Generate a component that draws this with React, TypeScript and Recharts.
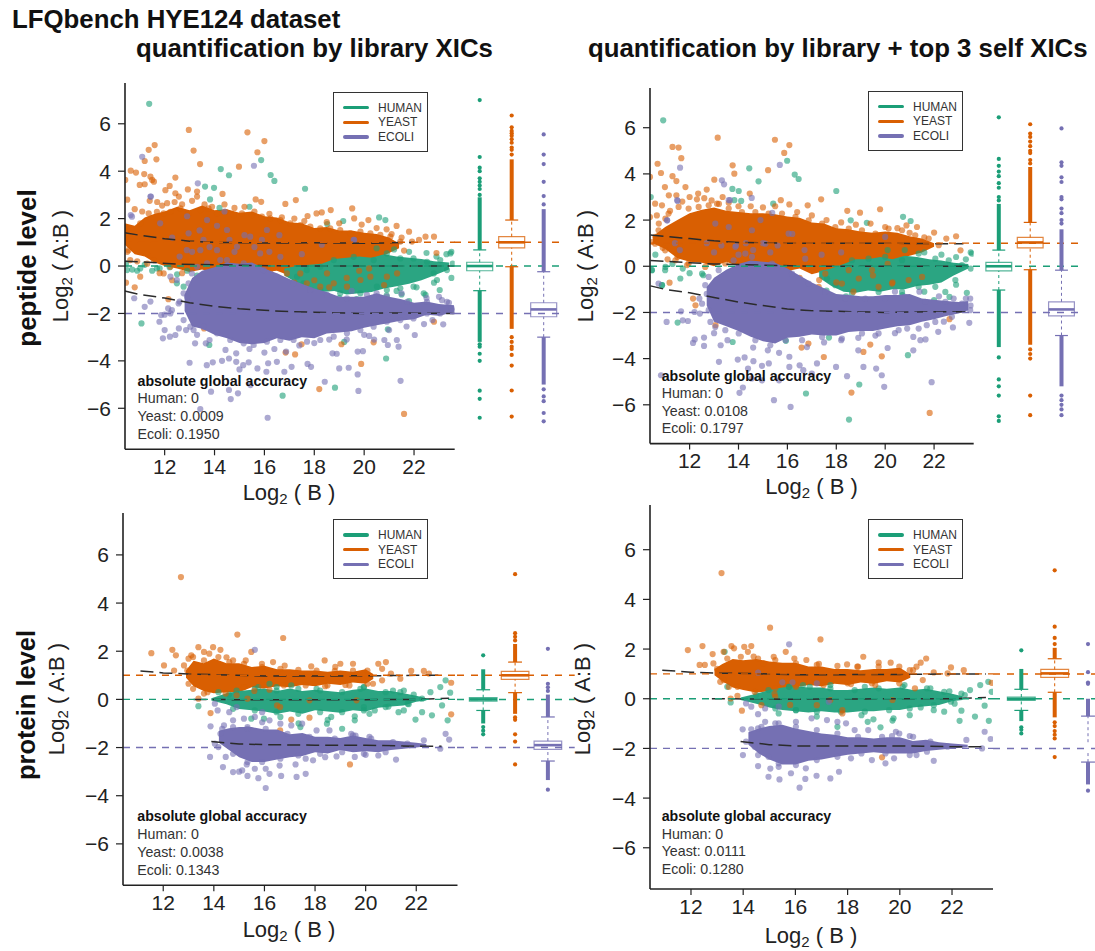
import React from 'react';
import {
  Area,
  ComposedChart,
  Line,
  ReferenceArea,
  ReferenceLine,
  Scatter,
  ScatterChart,
  XAxis,
  YAxis,
} from 'recharts';

type Pt = [number, number];

const GREEN = '#1B9E77';
const ORANGE = '#D95F02';
const PURPLE = '#7570B3';
const INK = '#222';
const FONT = '"Liberation Sans", Arial, sans-serif';

const xTicks = [12, 14, 16, 18, 20, 22];
const yTicks = [-6, -4, -2, 0, 2, 4, 6];
const speciesNames = ['HUMAN', 'YEAST', 'ECOLI'];
const speciesColors = [GREEN, ORANGE, PURPLE];
const expectedRatios = [0, 1, -2];

// --- peptide level, library XICs ---
// the solid core of each cloud is an envelope, single points sit around it
const pepLibYeastBandX = [10.4, 10.8, 11.2, 11.6, 12, 12.5, 13, 13.5, 14, 14.5, 15, 15.5, 16, 16.5, 17, 17.5, 18, 18.5, 19, 19.5, 20, 20.5, 21, 21.4];
const pepLibYeastBandHigh = [1.8, 1.7, 2.05, 2.2, 2.3, 2.5, 2.35, 2.55, 2.35, 2.4, 2.25, 2.3, 2.1, 2.05, 1.85, 1.8, 1.6, 1.65, 1.5, 1.5, 1.4, 1.35, 1.2, 0.95];
const pepLibYeastBandLow = [0.9, 0.5, 0.4, 0.15, 0, -0.1, -0.25, -0.15, -0.3, -0.1, -0.2, -0.05, -0.25, -0.2, -0.4, -0.3, -0.3, -0.1, -0.2, 0.05, 0.2, 0.3, 0.55, 0.75];
const pepLibHumanBandX = [16.8, 17.3, 17.8, 18.3, 18.8, 19.3, 19.8, 20.3, 20.8, 21.3, 21.8, 22.3, 22.8, 23.4];
const pepLibHumanBandHigh = [-0.1, 0, 0.05, 0.1, 0.3, 0.35, 0.4, 0.35, 0.5, 0.4, 0.35, 0.3, 0.2, 0.15];
const pepLibHumanBandLow = [-0.4, -0.7, -0.95, -1.1, -1.05, -1.2, -1.15, -1.1, -0.95, -0.85, -0.75, -0.6, -0.4, -0.15];
const pepLibEcoliBandX = [12.8, 13.1, 13.5, 14, 14.5, 15, 15.5, 16, 16.5, 17, 17.5, 18, 18.5, 19, 19.5, 20, 20.5, 21, 21.5, 22, 22.5, 23, 23.6];
const pepLibEcoliBandHigh = [-1.2, -0.5, -0.2, -0.05, 0.15, 0.1, 0.15, -0.1, -0.3, -0.55, -0.75, -0.95, -1.1, -1.3, -1.3, -1.3, -1.15, -1.3, -1.4, -1.55, -1.5, -1.6, -1.65];
const pepLibEcoliBandLow = [-1.9, -2.55, -2.65, -2.9, -3.05, -3.25, -3.3, -3.25, -3.05, -3.15, -3.0, -3.05, -2.85, -2.8, -2.75, -2.6, -2.5, -2.4, -2.3, -2.25, -2.05, -2.1, -1.95];

const pepLibYeastPts: Pt[] = [
  [10.42, 3.63], [10.64, 4.02], [10.85, 3.94], [11.36, 4.9], [11.6, 5.1], [11.2, 4.43], [11.67, 4.5], [11.18, 3.88],
  [11.43, 3.77], [11, 3.42], [11.2, 3.45], [11.5, 3.63], [11.57, 3.56], [12.97, 5.74], [13.16, 4.87], [13.42, 4.3],
  [12.43, 3.73], [12.2, 3.38], [12.03, 3.2], [12.93, 3.23], [13.3, 3.14], [13.3, 2.93], [12.43, 3.07], [12.57, 2.93],
  [15.32, 5.64], [16, 5.27], [15.72, 4.8], [14.98, 4.19], [14.32, 3.04], [16.84, 2.62], [17.26, 2.78], [15.65, 2.81],
  [15.87, 2.71], [19.52, 2.43], [18.66, 2.36], [17.73, 2.11], [18.09, 2.22], [18.3, 2.26], [20.17, 1.94], [19.6, 2.01],
  [21.3, 1.69], [21.8, 1.45], [22.46, 1.24], [22.8, 1.24], [22.2, 1.1], [10.5, 2.8], [10.8, 2.4], [11.1, 2.3],
  [11.4, 2.75], [11.7, 2.7], [11.9, 2.55], [12.1, 2.65], [12.4, 2.7], [12.7, 2.6], [13.1, 2.75], [13.6, 2.6],
  [13.9, 2.5], [14.4, 2.6], [14.8, 2.45], [15.2, 2.5], [15.6, 2.3], [16.2, 2.2], [16.7, 2.05], [17.2, 2.0],
  [17.6, 1.9], [18.5, 1.85], [19, 1.8], [19.9, 1.75], [20.5, 1.6], [20.9, 1.55], [21.1, 1.35], [21.5, 1.2],
  [10.5, 0.6], [10.45, -0.7], [10.9, 0.2], [11.3, 0.1], [11.8, -0.3], [12.3, -0.6], [12.7, -0.3], [21.6, 0.65],
  [16.4, -0.6], [17.2, -0.7], [18, -0.6], [18.6, -0.9], [19.3, -0.5], [19.8, -0.2], [20.2, -0.1], [20.8, -0.8],
  [17.23, -3.73], [17.49, -3.3], [19.88, -4.13], [18.2, -5.19], [21.6, -6.24], [20.38, -3.22], [19.09, -3.3],
  [16.85, -3.65], [13.58, -2.63], [22.8, -2.35], [12.15, -1.4], [10.8, -0.9], [22.9, 0.55],
];
const pepLibYeastEdge: Pt[] = [
  [11.02, 1.8], [11.36, 2.22], [11.69, 2.29], [11.96, 2.22], [12.23, 2.29], [12.63, 2.43], [12.96, 2.22], [13.43, 2.36],
  [13.76, 2.43], [14.1, 2.22], [14.43, 2.29], [14.77, 2.15], [15.1, 2.22], [15.5, 2.15], [15.9, 2.08], [16.24, 2.01],
  [16.64, 1.94], [17.04, 1.8], [17.44, 1.73], [17.84, 1.66], [18.24, 1.59], [18.64, 1.59], [19.04, 1.52], [19.44, 1.38],
  [19.85, 1.45], [20.25, 1.38], [20.65, 1.31], [21.05, 1.24], [21.45, 1.03], [21.92, 1.03], [14.23, -0.03], [14.9, 0.11],
  [15.57, 0.04], [16.24, -0.17], [16.9, -0.31], [17.17, -0.87], [17.7, -0.73], [18.24, -0.87], [18.78, -0.73], [19.31, -0.87],
  [19.85, -0.59], [20.25, -0.45], [20.91, -0.45], [21.32, -0.31], [18.51, -0.31], [17.44, -0.31], [11.96, -0.31], [11.02, -0.45],
  [10.62, 0.25], [10.55, 0.67], [11.29, 0.53], [11.56, 0.25], [12.23, -0.03],
];
const pepLibHumanPts: Pt[] = [
  [11.38, 6.84], [14.25, 4.09], [14.58, 3.83], [15.87, 4.47], [16.25, 3.84], [16.4, 3.59], [17.63, 3.26], [13.62, 3.35],
  [13.98, 3.3], [13.82, 2.81], [20.6, 2.05], [20.85, 1.94], [19.16, 1.9], [18.52, 1.77], [14.2, 2.45], [15.4, 2.5],
  [10.45, 0.1], [10.7, -0.15], [10.9, -0.2], [11.2, 0.05], [11.5, -0.2], [11.8, -0.1], [12.2, -0.05], [12.5, -0.35],
  [12.9, -0.2], [13.3, -0.4], [11.07, -2.42], [16.73, -5.47], [18.83, -5.13], [20.88, -3.9], [13.79, -3.33],
  [20.95, -2.67], [23.03, -1.01], [22.46, -1.22], [21.8, -1.48], [22.1, -0.9], [21.5, -1.2], [22.8, -0.7], [23.5, -0.5],
  [23.3, 0.5], [23.5, 0.6], [22.9, 0.4], [22.5, 0.55], [21.8, 0.6], [21.2, 0.7], [20.5, 0.75], [23.55, 0.1],
  [18.3, -1.2], [19, -1.35], [19.7, -1.4], [20.4, -1.35], [20.9, -1.25], [21.3, -1.05], [19.2, -3.2],
];
const pepLibHumanEdge: Pt[] = [
  [17.7, -0.17], [18.24, -0.03], [18.78, 0.25], [19.58, 0.39], [20.38, 0.25], [20.91, 0.53], [21.45, 0.32], [21.98, 0.32],
  [22.52, 0.18], [23.05, 0.25], [23.46, 0.53], [22.92, -0.59], [22.39, -1.15], [21.98, -0.87], [21.45, -0.94], [20.91, -1.01],
  [20.51, -0.87], [19.85, -1.15], [19.04, -1.15], [18.24, -1.01], [17.57, -0.73], [17.31, -0.45], [22.79, -0.31], [23.32, -0.17],
  [10.49, -0.17], [11.02, -0.1], [11.69, -0.1], [12.76, -0.87], [12.49, -0.73],
];
const pepLibEcoliPts: Pt[] = [
  [11.1, 4.61], [15.58, 4.23], [13.33, 3.49], [11.43, 2.93], [10.64, 2.15], [12.3, 1.2], [12.9, 2.1], [13.4, 1.5],
  [13.8, 0.8], [14.1, 1.7], [14.4, 2.3], [14.8, 0.6], [15.2, 1.3], [15.6, 0.8], [15.9, 1.1], [16.2, 0.6], [13.1, 0.6],
  [12.6, 0.4], [14.6, 1.1], [16.6, 1.3], [17.5, 0.5], [18.3, 0.9], [19.6, 1.1], [13, -4.08], [13.69, -4.18],
  [13.93, -4.06], [14.3, -4], [14.58, -3.9], [14.87, -4.04], [15.15, -4.18], [15, -4.36], [15.37, -4.06],
  [15.72, -4.32], [16.08, -4.46], [16.15, -4.1], [16.5, -4.04], [16.87, -3.61], [16.8, -4.46], [17.09, -4.25],
  [17.73, -4.13], [17.87, -4.25], [18.42, -4.88], [19, -4.32], [19.38, -4.29], [19.74, -4.57], [19.77, -5.27],
  [21.46, -4.84], [16.13, -6.4], [13.43, -6.03], [13.86, -5.3], [14.58, -5.23], [14.94, -5.37], [14.65, -5.61],
  [15.44, -5.02], [18.73, -3.68], [18.9, -3.7], [19.74, -3.61], [19.95, -3.59], [20.95, -3.33], [21.38, -3.4],
  [21.31, -3.12], [20.81, -3.12], [20.4, -3.1], [20.2, -2.95], [22.03, -2.91], [22.74, -2.28], [23.17, -2.46],
  [10.78, -1.36], [11.2, -1.72], [11.43, -1.5], [11.86, -2.07], [12, -2.05], [12.14, -1.79], [11.79, -2.35],
  [12, -2.7], [11.93, -3.05], [12.21, -2.98], [12.43, -2.91], [12.57, -2.63], [12.86, -2.7], [13.22, -3.26],
  [13.65, -3.26], [13.8, -3.12], [14.44, -3.54], [14.87, -3.68], [12.6, -1.5], [12.9, -1.3], [13.3, -2.9],
  [15.4, -3.5], [16, -3.65], [16.4, -3.5], [17.4, -3.35], [18, -3.25], [18.6, -3.1], [19.3, -3.1], [20, -2.9],
  [21, -2.7], [21.7, -2.55], [22.4, -2.45], [23, -1.3], [23.4, -1.55], [23.55, -1.9], [22.5, -1.35], [21.5, -1.15],
  [20.5, -1.15], [19.5, -1.05],
];
const pepLibEcoliEdge: Pt[] = [
  [13.7, 1.94], [12.89, 0.67], [13.43, 0.67], [14.1, 0.67], [14.5, 1.52], [14.9, 0.81], [16.1, 1.52], [16.64, 0.39],
  [15.43, 1.24], [13.56, 1.1], [11.82, 1.8], [10.69, 2.08], [11.45, 2.93], [12.96, 1.38], [14.23, 0.25], [19.58, 1.1], [15.83, 0.53],
  [13.16, -2.7], [13.56, -2.56], [14.1, -2.84], [14.63, -3.12], [15.17, -3.26], [15.57, -3.33], [16.1, -3.19], [16.64, -3.12],
  [17.17, -3.12], [17.71, -3.19], [18.24, -3.12], [18.78, -2.98], [19.31, -2.84], [19.85, -2.7], [20.38, -2.56], [20.91, -2.35],
  [21.45, -2.28], [21.98, -2.21], [22.52, -2], [23.05, -2], [12.29, -1.86], [12.56, -1.58], [12.76, -1.15], [12.96, -0.73],
  [12.49, -0.59], [12.23, -0.45], [13.09, -0.31], [13.3, -0.03], [13.7, 0.11], [14.5, 0.25], [15.17, 0.11], [15.97, -0.17],
  [16.5, -0.45], [17.17, -0.73], [17.84, -1.01], [18.51, -1.22], [19.31, -1.36], [20.11, -1.22], [20.91, -1.29], [21.72, -1.51],
  [22.52, -1.51], [23.32, -1.51], [23.52, -1.79], [23.12, -1.44], [12.23, -2], [12.76, -2.28], [13.03, -2.56],
];

const pepLibHumanFit = { x: [10.4, 11.5, 12.5, 17, 20, 23.6], y: [0.2, 0.15, 0.08, 0, 0, 0] };
const pepLibYeastFit = { x: [10.4, 11, 12, 13, 14, 16, 18, 20, 22], y: [1.4, 1.3, 1.15, 1.05, 1.0, 0.97, 0.98, 0.96, 1.0] };
const pepLibEcoliFit = {
  x: [10.4, 11, 12, 13, 14, 15, 16, 17, 18, 20, 21, 23.6],
  y: [-1.05, -1.2, -1.35, -1.55, -1.7, -1.8, -1.87, -1.92, -1.95, -2.0, -1.98, -2.0],
};

const pepLibHumanOutliers = [7.0, 4.6, 4.15, 4.0, 3.7, 3.55, 3.4, 3.25, 3.0, -3.3, -3.4, -3.7, -4.0, -5.26, -5.6, -6.4];
const pepLibYeastOutliers = [6.35, 5.85, 5.7, 5.6, 5.5, 5.35, 5.2, 5.0, 4.9, 4.7, -3.0, -3.2, -3.4, -3.5, -3.75, -4.2, -5.25, -6.35];
const pepLibEcoliOutliers = [5.55, 4.7, 4.3, 3.55, 2.95, 2.6, -5.2, -5.5, -5.7, -6.2, -6.55];
// whisker low, q1, median, q3, whisker high
const pepLibHumanBox = [-1.04, -0.2, 0, 0.16, 0.68];
const pepLibYeastBox = [-0.03, 0.77, 1.0, 1.24, 1.94];
const pepLibEcoliBox = [-3.0, -2.14, -1.83, -1.55, -0.24];
const pepLibHumanRuns = [[0.68, 2.9], [-3.2, -1.04]];
const pepLibYeastRuns = [[1.94, 4.5], [-2.65, -0.03]];
const pepLibEcoliRuns = [[-0.24, 2.4], [-5.0, -3.0]];

// --- peptide level, library + top 3 self XICs ---
const pepSelfYeastBandX = [10.5, 11, 11.5, 12, 12.5, 13, 13.5, 14, 14.5, 15, 15.5, 16, 16.5, 17, 17.5, 18, 18.5, 19, 19.5, 20, 20.5, 21, 21.5, 22];
const pepSelfYeastBandHigh = [1.3, 1.7, 2.0, 2.3, 2.45, 2.55, 2.4, 2.35, 2.3, 2.3, 2.25, 2.15, 2.1, 1.9, 1.85, 1.65, 1.6, 1.5, 1.45, 1.5, 1.45, 1.3, 1.2, 1.0];
const pepSelfYeastBandLow = [1.0, 0.75, 0.35, 0.2, 0.15, 0, 0.2, 0, 0.1, -0.1, -0.05, -0.2, -0.1, -0.35, -0.2, -0.3, -0.1, -0.2, -0.05, 0.1, 0.3, 0.45, 0.6, 0.85];
const pepSelfHumanBandX = [17.3, 17.8, 18.3, 18.8, 19.3, 19.8, 20.3, 20.8, 21.3, 21.8, 22.3, 22.8, 23.4];
const pepSelfHumanBandHigh = [-0.2, -0.1, 0.1, 0.3, 0.3, 0.4, 0.3, 0.45, 0.4, 0.3, 0.25, 0.15, 0.1];
const pepSelfHumanBandLow = [-0.5, -0.85, -1.1, -1.15, -1.05, -1.1, -1.0, -1.0, -0.85, -0.8, -0.7, -0.4, -0.1];
const pepSelfEcoliBandX = [12.7, 13, 13.5, 14, 14.5, 15, 15.5, 16, 16.5, 17, 17.5, 18, 18.5, 19, 19.5, 20, 20.5, 21, 21.5, 22, 22.5, 23, 23.4];
const pepSelfEcoliBandHigh = [-0.9, -0.5, -0.15, 0.1, 0.25, 0.2, 0.15, -0.1, -0.4, -0.7, -0.95, -1.2, -1.25, -1.3, -1.3, -1.25, -1.25, -1.2, -1.4, -1.45, -1.5, -1.55, -1.5];
const pepSelfEcoliBandLow = [-1.7, -2.4, -2.6, -2.8, -3.05, -3.25, -3.35, -3.1, -3.05, -2.95, -3.0, -3.0, -2.85, -2.8, -2.8, -2.7, -2.6, -2.55, -2.4, -2.3, -2.15, -2.05, -1.9];

const pepSelfYeastPts: Pt[] = [
  [10.38, 3.87], [10.69, 4.44], [10.83, 4.04], [11.3, 5.17], [11.55, 5.14], [11.66, 4.68], [11.3, 3.9], [11.46, 3.69],
  [10.99, 3.43], [11.83, 3.43], [11.15, 3.07], [11.46, 3.07], [13.15, 5.57], [13.76, 4.37], [13.83, 4.01], [13.01, 3.75],
  [12.7, 3.32], [12.35, 3.15], [13.35, 3.0], [14.46, 3.15], [15.21, 4.16], [15.49, 5.48], [15.87, 4.91], [16.08, 5.25],
  [15.73, 2.86], [16.08, 2.68], [16.83, 2.64], [17.38, 2.9], [18.45, 2.4], [18.97, 2.32], [19.79, 2.47], [21.3, 1.7],
  [22, 1.46], [22.9, 1.3], [22.5, 1.2], [23.08, 0.69], [20.87, 1.77], [10.59, 2.71], [10.87, 2.64], [10.66, 2.2],
  [10.38, 2.13], [11.01, 2.06], [10.73, 1.56], [10.59, 0.98], [10.9, 0.8], [11.2, 2.4], [11.7, 2.8], [12, 3.0],
  [12.3, 2.9], [12.6, 2.95], [12.9, 2.85], [13.2, 2.7], [13.6, 2.75], [14, 2.6], [14.5, 2.6], [15, 2.55], [15.5, 2.6],
  [16.4, 2.35], [17, 2.2], [17.6, 2.0], [18.2, 1.9], [18.8, 1.8], [19.4, 1.85], [20, 1.7], [20.5, 1.65], [21, 1.45],
  [21.6, 1.25], [11.1, 0.3], [11.5, 0.4], [11.9, 0.05], [16.5, -0.5], [17.3, -0.6], [18, -0.7], [18.7, -1.1], [19.5, -0.4],
  [20.3, -0.7], [20.1, 0.1], [17.49, -3.93], [19.86, -3.9], [18.62, -5.47], [21.82, -6.35], [19.39, -3.39], [19.11, -3.71],
  [22.63, -2.29], [12.14, -1.4], [12.24, -1.69], [11.18, -0.71], [13.06, -2.55], [16.86, -3.35], [16.58, -3.52],
];
const pepSelfYeastEdge: Pt[] = [
  [10.74, 1.85], [11.14, 2.28], [11.55, 2.57], [11.96, 2.5], [12.37, 2.57], [12.78, 2.64], [13.12, 2.71], [13.6, 2.5],
  [14.14, 2.35], [14.69, 2.35], [15.23, 2.28], [15.78, 2.28], [16.33, 2.14], [16.87, 1.99], [17.42, 1.85], [17.96, 1.7],
  [18.51, 1.63], [19.05, 1.56], [19.6, 1.41], [20.14, 1.63], [20.69, 1.56], [21.23, 1.34], [21.78, 1.2], [22.19, 0.91],
  [10.6, 1.27], [10.46, 1.05], [11, 0.69], [11.42, 0.26], [11.96, 0.12], [12.64, -0.03], [13.46, 0.12], [14.28, -0.03],
  [15.23, -0.03], [16.05, -0.17], [16.87, -0.03], [17.28, -0.89], [18.23, -0.75], [18.92, -0.53], [19.73, -0.89], [20.28, -0.75],
  [20.96, -0.6], [21.51, -0.46], [17.55, -0.32], [18.51, -0.17], [19.46, -0.17],
];
const pepSelfHumanPts: Pt[] = [
  [10.92, 6.32], [14.44, 4.24], [14.82, 3.68], [15.99, 4.57], [16.3, 3.97], [16.46, 3.78], [18, 3.26], [13.75, 3.35],
  [14.01, 3.26], [13.83, 2.86], [14.11, 2.83], [15.42, 2.71], [10.41, 3.0], [20.73, 2.14], [21.04, 1.96], [19.25, 1.88],
  [18.59, 1.99], [11.51, -2.44], [16.76, -5.51], [18.94, -5.12], [20.93, -3.85], [18.52, -6.64], [13.76, -3.28],
  [15.94, -3.23], [17.7, -3.09], [23.34, -1.15], [22.63, -1.33], [22, -1.47], [10.87, -0.82], [11, -0.17], [10.45, -0.17],
  [11.72, -0.1], [12.56, -0.39], [11.3, 0.1], [12, -0.3], [10.6, 0.5], [23.5, 0.6], [23.3, 0.3], [22.9, 0.4], [22.3, 0.5],
  [21.6, 0.6], [20.8, 0.7], [20.1, 0.7], [23.5, -0.1], [22.9, -0.8], [21.6, -1.1], [20.7, -1.25], [19.9, -1.45],
  [19.2, -1.45], [18.4, -1.3], [17.6, -1.05],
];
const pepSelfHumanEdge: Pt[] = [
  [18.64, 0.26], [19.32, 0.33], [20, 0.41], [20.69, 0.26], [21.37, 0.55], [22.05, 0.33], [22.6, 0.26], [23.14, 0.05], [23.55, 0.55],
  [22.87, -0.6], [22.46, -1.11], [22.05, -0.89], [21.37, -0.89], [20.69, -1.11], [19.73, -1.11], [18.64, -1.18], [17.96, -0.82],
  [17.62, -0.53], [10.46, -0.17], [11.01, -0.03], [11.62, -0.53], [10.87, -0.82], [12.51, -0.32],
];
const pepSelfEcoliPts: Pt[] = [
  [11.61, 4.27], [15.69, 4.39], [13.32, 3.72], [13.41, 3.55], [11.51, 2.83], [13.65, 2.86], [14.54, 2.96], [11.08, 1.99],
  [15.38, 2.31], [11.4, 1.0], [11.6, 0.7], [12.7, 1.0], [13, 0.6], [13.3, 0.9], [13.6, 1.7], [13.9, 0.9], [14, 0.5],
  [14.3, 1.0], [14.6, 0.7], [14.9, 2.0], [15, 1.0], [15.3, 0.6], [15.6, 0.9], [16.2, 1.4], [16.7, 0.7], [17.4, 0.5],
  [18.2, 0.6], [13.2, -4.14], [13.97, -4.04], [14.25, -3.95], [14.61, -4.11], [14.96, -4.31], [15.24, -4.21], [14.39, -4.43],
  [14.54, -4.86], [14.96, -4.94], [14.18, -5.25], [14.04, -5.48], [15.45, -5.8], [16.13, -6.09], [15.66, -4.94], [16.08, -4.36],
  [16.5, -4.29], [16.65, -4.5], [17, -4.65], [17.99, -4.36], [17.21, -4.21], [18.44, -4.76], [18.9, -3.64], [19.11, -4.36],
  [19.63, -4.43], [19.86, -4.72], [19.96, -5.22], [21.9, -5.02], [20.1, -3.54], [21.15, -3.64], [21.44, -3.2], [21.65, -3.17],
  [22.17, -2.84], [22.77, -2.65], [23.44, -2.45], [21.15, -3.06], [12.21, -3.17], [12.59, -3.09], [12.59, -3.45], [12.14, -3.32],
  [11.06, -2.41], [11.72, -2.34], [11.93, -2.37], [11.65, -1.95], [12.2, -1.98], [12.42, -2.05], [12.85, -2.41], [13.27, -3.42],
  [13.55, -3.2], [14.6, -3.52], [15.2, -3.64], [15.66, -3.75], [16.08, -3.92], [10.73, -0.75], [10.83, -4.72], [12.4, -1.4],
  [12.7, -1.2], [13, -2.9], [16.8, -3.5], [17.5, -3.3], [18.2, -3.2], [18.9, -3.1], [19.6, -3.0], [20.4, -2.9], [20.9, -2.7],
  [21.7, -2.55], [22.4, -2.4], [23.3, -1.4], [23.5, -1.7], [22.8, -1.4], [22.2, -1.3], [21.4, -1.1], [20.4, -1.1],
];
const pepSelfEcoliEdge: Pt[] = [
  [14.55, 1.56], [13.87, 0.84], [15.1, 0.98], [16.05, 1.41], [16.73, 0.33], [13.05, 1.85], [14.28, 0.55], [11.08, 1.99],
  [13.6, 2.86], [11.49, 2.86], [20, 1.27], [12.64, -0.82], [12.78, -0.46], [13.19, -0.17], [13.8, 0.26], [14.55, 0.41],
  [15.37, 0.12], [16.19, -0.32], [16.87, -0.75], [17.55, -1.11], [18.37, -1.4], [19.19, -1.4], [20, -1.4], [20.82, -1.33],
  [21.64, -1.54], [22.46, -1.54], [23.14, -1.62], [23.48, -1.4], [12.51, -1.62], [12.78, -1.9], [13.05, -2.63], [13.46, -2.77],
  [14.01, -2.91], [14.69, -3.2], [15.3, -3.42], [15.92, -3.2], [16.6, -3.2], [17.42, -3.06], [18.23, -3.13], [19.05, -2.91],
  [19.73, -2.91], [20.55, -2.77], [21.37, -2.7], [22.05, -2.41], [22.73, -2.19], [23.48, -1.9],
];

const pepSelfHumanFit = { x: [10.4, 12, 13, 17, 20, 23.6], y: [0.25, 0.15, 0.1, 0, 0, 0] };
const pepSelfYeastFit = { x: [10.4, 12, 13, 14, 16, 18, 20, 22, 23.2], y: [1.35, 1.2, 1.1, 1.03, 1.0, 1.0, 1.0, 0.98, 0.97] };
const pepSelfEcoliFit = {
  x: [10.4, 11, 12, 13, 14, 15, 16, 17, 18, 20, 22, 23.4],
  y: [-0.85, -1.0, -1.15, -1.35, -1.55, -1.7, -1.85, -1.93, -1.95, -2.0, -1.97, -1.97],
};

const pepSelfHumanOutliers = [6.45, 4.65, 4.35, 4.1, 3.9, 3.6, 3.4, 3.0, 2.85, -3.95, -4.9, -5.2, -5.6, -6.5, -6.7];
const pepSelfYeastOutliers = [6.15, 5.75, 5.6, 5.4, 5.2, 5.0, 4.9, 4.6, 4.45, -3.6, -3.8, -4.0, -5.6, -6.45];
const pepSelfEcoliOutliers = [5.97, 4.5, 4.35, 3.85, 3.65, 3.0, 2.9, 2.5, 2.3, 2.0, 1.85, -5.6, -5.8, -6.0, -6.2, -6.45];
const pepSelfHumanBox = [-1.03, -0.2, 0, 0.17, 0.7];
const pepSelfYeastBox = [-0.15, 0.8, 1.03, 1.25, 1.9];
const pepSelfEcoliBox = [-3.0, -2.15, -1.87, -1.54, -0.17];
const pepSelfHumanRuns = [[0.7, 2.7], [-3.5, -1.03]];
const pepSelfYeastRuns = [[1.9, 4.3], [-3.4, -0.15]];
const pepSelfEcoliRuns = [[-0.17, 1.6], [-5.2, -3.0]];

// --- protein level, library XICs ---
const protLibYeastBandX = [12.9, 13.2, 13.6, 14, 14.5, 15, 15.5, 16, 16.5, 17, 17.5, 18, 18.5, 19, 19.5, 20, 20.3];
const protLibYeastBandHigh = [1.2, 1.6, 1.5, 1.7, 1.5, 1.5, 1.35, 1.4, 1.25, 1.25, 1.2, 1.2, 1.15, 1.2, 1.15, 1.25, 1.05];
const protLibYeastBandLow = [0.9, 0.55, 0.35, 0.25, 0.3, 0.3, 0.5, 0.45, 0.55, 0.5, 0.6, 0.55, 0.65, 0.6, 0.7, 0.65, 0.85];
const protLibHumanBandX = [13.9, 14.5, 15, 15.5, 16, 16.5, 17, 17.5, 18, 18.5, 19, 19.5, 20, 20.5, 21, 21.5, 22, 22.4];
const protLibHumanBandHigh = [0.05, 0.25, 0.35, 0.4, 0.45, 0.35, 0.45, 0.35, 0.4, 0.35, 0.3, 0.4, 0.45, 0.35, 0.35, 0.25, 0.15, 0.05];
const protLibHumanBandLow = [-0.05, -0.2, -0.4, -0.45, -0.5, -0.6, -0.5, -0.6, -0.45, -0.5, -0.55, -0.45, -0.5, -0.35, -0.3, -0.25, -0.1, -0.05];
const protLibEcoliBandX = [14.2, 14.6, 15, 15.5, 16, 16.5, 17, 17.5, 18, 18.5, 19, 19.5, 20, 20.5, 21, 21.5, 22, 22.4];
const protLibEcoliBandHigh = [-1.3, -1.2, -1.15, -1.15, -1.25, -1.25, -1.45, -1.4, -1.55, -1.55, -1.6, -1.5, -1.6, -1.7, -1.7, -1.75, -1.8, -1.85];
const protLibEcoliBandLow = [-1.8, -2.1, -2.4, -2.6, -2.6, -2.5, -2.4, -2.35, -2.2, -2.25, -2.1, -2.2, -2.15, -2.2, -2.1, -2.05, -2.0, -1.95];

const protLibYeastPts: Pt[] = [
  [12.7, 5.08], [14.93, 2.69], [16.74, 2.55], [11.53, 1.92], [12.36, 2.06], [12.5, 1.83], [12.03, 1.41], [12.43, 1.2],
  [13.39, 2.17], [13.61, 1.97], [13.97, 2.17], [14.26, 2.06], [13.82, 1.9], [13.11, 1.83], [13, 1.69], [12.82, 1.41],
  [15.48, 1.97], [14.76, 1.62], [15.26, 1.62], [15.9, 1.48], [16.34, 1.55], [18.38, 1.62], [17.85, 1.37], [19, 1.48],
  [19.5, 1.48], [20.5, 1.48], [20.8, 1.55], [20.65, 1.27], [21, 1.07], [21.8, 1.18], [22.3, 1.18], [21.37, 0.86],
  [20.65, 0.79], [20.29, 0.65], [22.5, 1.07], [23.38, 0.69], [23.38, -0.62], [13.39, 0.03], [13.87, -0.57], [13.61, 0.24],
  [13, 0.65], [13.18, 0.44], [19.38, -2.7], [17.06, -0.84], [17.78, -0.76], [16.62, -0.32], [16.5, -0.25], [14.9, 0.17],
  [15.33, 0.03], [17.78, -0.04], [19.64, -0.04], [16.62, -1.29], [12.95, 1.2], [14.5, 1.75], [16.8, 1.4], [18.8, 1.35],
  [15.6, 0.35], [16.2, 0.4], [18.4, 0.55], [19.2, 0.6],
];
const protLibYeastEdge: Pt[] = [
  [13.18, 1.76], [13.61, 1.62], [14.18, 1.76], [14.61, 1.55], [15.19, 1.48], [15.91, 1.34], [16.63, 1.27], [17.34, 1.23],
  [18.06, 1.2], [18.78, 1.18], [19.5, 1.2], [20.07, 1.2], [13.32, 0.65], [13.75, 0.3], [14.47, 0.24], [15.19, 0.51],
  [15.91, 0.58], [16.77, 0.58], [17.63, 0.58], [18.49, 0.58], [19.36, 0.58], [20.07, 0.65],
];
const protLibHumanPts: Pt[] = [
  [13.39, -0.28], [23.16, 0.79], [23.34, 0.28], [22.95, 0.51], [22.56, 0.3], [22.23, 0.03], [23.02, -0.25], [23.24, -0.87],
  [22.62, -0.66], [22.23, -0.53], [21.97, -0.84], [21.51, -0.46], [21.3, -0.53], [19.57, -0.87], [19.57, -0.7], [19.07, -1.22],
  [18.64, -0.73], [18.47, -1.01], [18.5, -0.85], [17.42, -1.15], [17.35, -1.0], [16.63, -0.73], [15.98, -0.8], [15.48, -0.8],
  [20.36, -0.46], [21.08, 0.37], [21.37, 0.3], [19.79, 0.44], [19.93, 0.51], [16.2, 0.65], [15.76, 0.51], [17.06, 0.58],
  [16.48, 0.51], [18.06, 0.44], [20.15, -0.6], [19.93, -0.32], [14.6, 0.2], [21.9, 0.2], [21.7, -0.2], [20.9, -0.3],
];
const protLibHumanEdge: Pt[] = [
  [14.18, 0.3], [14.9, 0.37], [15.62, 0.44], [16.48, 0.37], [17.34, 0.44], [18.2, 0.37], [19.07, 0.3], [19.93, 0.51],
  [20.79, 0.3], [21.51, 0.37], [14.76, -0.39], [15.62, -0.46], [16.48, -0.53], [17.34, -0.6], [18.2, -0.53], [19.07, -0.53],
  [19.93, -0.46], [20.79, -0.32], [21.66, -0.18],
];
const protLibEcoliPts: Pt[] = [
  [15.62, 2.06], [14.04, -0.18], [13.87, -1.12], [14.15, -0.46], [14.61, -0.53], [14.9, -0.32], [15.19, -0.8], [15.91, -0.53],
  [16.2, -0.87], [15.62, -0.73], [14.76, -0.87], [14.4, -1.08], [15.33, -1.15], [15.91, -0.95], [16.63, -1.01], [17.06, -1.08],
  [17.49, -1.01], [18.06, -1.29], [18.57, -1.29], [19.43, -1.43], [20.15, -1.56], [22.3, -1.7], [23.16, -1.43], [23.3, -1.67],
  [22.95, -2.05], [21.65, -1.84], [21.2, -2.5], [20.5, -2.33], [19.57, -2.39], [18.85, -2.37], [17.92, -2.53], [17.63, -2.46],
  [17.23, -2.7], [17.63, -3.09], [17.27, -3.22], [16.66, -3.18], [16.2, -3.09], [15.76, -3.27], [15.33, -3.18], [16.05, -3.68],
  [15.62, -2.88], [16.05, -2.88], [15.12, -2.95], [14.76, -3.02], [15, -3.0], [14.36, -2.81], [14.47, -2.39], [13.85, -2.39],
  [14.04, -1.84], [14.18, -1.98], [14.26, -1.43], [16.6, -2.75], [15.3, -2.7], [18.4, -2.4], [20, -2.3], [19.6, -1.5],
];
const protLibEcoliEdge: Pt[] = [
  [14.33, -1.22], [14.76, -1.15], [15.33, -1.22], [16.05, -1.22], [16.91, -1.43], [17.78, -1.56], [18.78, -1.63], [19.5, -1.49],
  [20.22, -1.63], [21.08, -1.77], [14.76, -2.26], [15.33, -2.6], [15.91, -2.6], [16.63, -2.46], [17.34, -2.33], [18.2, -2.26],
  [19.07, -2.19], [19.93, -2.26], [20.79, -2.19],
];

const protLibHumanFit = { x: [13.2, 16, 18, 20, 22, 23.3], y: [0, -0.02, -0.02, -0.01, 0, 0.05] };
const protLibYeastFit = { x: [11.1, 12, 13, 14, 16, 18, 20, 22, 23], y: [1.18, 1.1, 1.05, 1.03, 0.97, 0.97, 0.98, 1.0, 1.0] };
const protLibEcoliFit = { x: [13.9, 15, 16, 18, 20, 22, 23], y: [-1.75, -1.85, -1.88, -1.9, -1.9, -1.95, -1.95] };

const protLibHumanOutliers = [1.83, -1.15, -1.3, -1.45];
const protLibYeastOutliers = [5.2, 2.75, 2.6, 2.45, -0.75, -0.85, -1.45, -1.75, -2.7];
const protLibEcoliOutliers = [2.1, 0.65, 0.5, 0.35, -3.75];
const protLibHumanBox = [-0.46, -0.07, 0, 0.07, 0.4];
const protLibYeastBox = [0.28, 0.83, 1.0, 1.16, 1.55];
const protLibEcoliBox = [-2.56, -2.08, -1.9, -1.73, -0.73];
const protLibHumanRuns = [[0.4, 1.25], [-1.0, -0.46]];
const protLibYeastRuns = [[1.55, 2.3], [-0.6, 0.28]];
const protLibEcoliRuns = [[-0.73, 0.2], [-3.35, -2.56]];

// --- protein level, library + top 3 self XICs ---
const protSelfYeastBandX = [12.9, 13.2, 13.6, 14, 14.5, 15, 15.5, 16, 16.5, 17, 17.5, 18, 18.5, 19, 19.5, 20, 20.4];
const protSelfYeastBandHigh = [1.2, 1.4, 1.6, 1.55, 1.6, 1.5, 1.45, 1.45, 1.3, 1.3, 1.2, 1.2, 1.15, 1.2, 1.2, 1.25, 1.0];
const protSelfYeastBandLow = [0.95, 0.7, 0.45, 0.35, 0.25, 0.3, 0.4, 0.45, 0.55, 0.5, 0.6, 0.55, 0.65, 0.6, 0.7, 0.65, 0.85];
const protSelfHumanBandX = [13.9, 14.5, 15, 15.5, 16, 16.5, 17, 17.5, 18, 18.5, 19, 19.5, 20, 20.5, 21, 21.5, 22, 22.4];
const protSelfHumanBandHigh = [0.05, 0.2, 0.35, 0.45, 0.5, 0.45, 0.45, 0.35, 0.35, 0.4, 0.45, 0.4, 0.45, 0.35, 0.4, 0.3, 0.2, 0.1];
const protSelfHumanBandLow = [-0.05, -0.2, -0.35, -0.45, -0.5, -0.55, -0.5, -0.55, -0.55, -0.5, -0.5, -0.45, -0.45, -0.35, -0.3, -0.25, -0.1, -0.05];
const protSelfEcoliBandX = [14.2, 14.6, 15, 15.5, 16, 16.5, 17, 17.5, 18, 18.5, 19, 19.5, 20, 20.5, 21, 21.5, 22, 22.6];
const protSelfEcoliBandHigh = [-1.35, -1.2, -1.1, -1.05, -1.2, -1.3, -1.4, -1.45, -1.55, -1.55, -1.6, -1.55, -1.55, -1.7, -1.65, -1.75, -1.8, -1.85];
const protSelfEcoliBandLow = [-1.85, -2.2, -2.45, -2.65, -2.65, -2.5, -2.45, -2.35, -2.25, -2.2, -2.15, -2.2, -2.2, -2.2, -2.1, -2.05, -2.0, -1.95];

const protSelfYeastPts: Pt[] = [
  [13.17, 5.06], [15.03, 2.86], [16.96, 2.39], [11.88, 1.96], [12.44, 2.12], [12.33, 1.36], [12.53, 1.36], [12.83, 1.8],
  [12.86, 1.42], [13.25, 1.89], [13.55, 2.12], [13.65, 2.03], [14.04, 2.09], [14.31, 2.12], [14.18, 1.89], [14.77, 1.42],
  [15.17, 1.69], [15.63, 1.89], [15.96, 1.62], [16.42, 1.56], [18.6, 1.69], [17.98, 1.38], [18.37, 1.29], [19.19, 1.45],
  [19.65, 1.45], [21.01, 1.62], [20.8, 1.45], [20.64, 1.29], [20.51, 1.15], [21.3, 1.06], [21.96, 1.26], [22.45, 1.15],
  [21.83, 1.02], [20.88, 0.75], [20.58, 0.42], [23.52, 0.64], [13.12, 0.68], [13.45, 0.48], [13.78, 0.12], [13.95, -0.48],
  [14.7, -0.26], [13.52, 0.01], [19.32, -2.36], [17.8, -0.59], [17.8, -0.46], [15.8, -0.25], [16.82, -0.26], [17.34, -0.05],
  [19.72, -0.05], [15.23, 0.08], [16.02, 0.48], [18, 0.62], [18.93, 0.62], [16.9, 1.4], [14.4, 1.7], [13, 1.2], [15.2, 0.2],
];
const protSelfYeastEdge: Pt[] = [
  [13.39, 1.62], [13.91, 1.69], [14.57, 1.62], [15.23, 1.56], [16.02, 1.42], [16.82, 1.36], [17.61, 1.32], [18.4, 1.29],
  [19.19, 1.29], [19.98, 1.29], [20.38, 1.15], [13.25, 0.75], [13.78, 0.48], [14.44, 0.28], [15.23, 0.42], [16.02, 0.55],
  [17.08, 0.55], [18.13, 0.59], [19.06, 0.55], [19.98, 0.62],
];
const protSelfHumanPts: Pt[] = [
  [13.29, 1.89], [13.52, -0.15], [23.39, 0.68], [23.08, 0.55], [23.52, 0.28], [22.69, 0.35], [22.49, 0.15], [23.25, -0.28],
  [22.88, -0.72], [23.41, -0.89], [22.36, -0.48], [22.29, -0.89], [21.7, -0.52], [21.3, -0.46], [19.26, -1.15], [19.76, -0.79],
  [19.72, -0.88], [18.99, -0.83], [18.77, -0.93], [18.53, -0.66], [20.38, -0.66], [17.61, -1.13], [16.82, -0.72], [16.02, -0.46],
  [15.36, -0.59], [13.39, 0.48], [20.18, 0.55], [21.04, 0.42], [17.34, 0.55], [16.29, 0.55], [15.76, 0.48], [18.66, 0.48],
  [14.5, 0.15], [21.9, 0.3], [22.1, -0.2], [20.8, -0.35],
];
const protSelfHumanEdge: Pt[] = [
  [14.97, 0.35], [15.76, 0.48], [16.55, 0.48], [17.34, 0.42], [18.27, 0.35], [19.19, 0.42], [20.11, 0.48], [21.17, 0.42],
  [21.7, 0.28], [22.36, 0.21], [15.23, -0.39], [16.02, -0.46], [16.82, -0.52], [17.74, -0.52], [18.66, -0.52], [19.59, -0.46],
  [20.38, -0.39], [21.3, -0.26], [21.96, -0.12],
];
const protSelfEcoliPts: Pt[] = [
  [15.76, 2.19], [14.57, 1.05], [15.5, 0.66], [15.89, 0.66], [16.82, 0.62], [14.11, -0.19], [14.31, -0.32], [14.57, -0.62],
  [14.84, -0.39], [15.36, -0.32], [17.28, -0.12], [13.98, -1.23], [14.31, -1.23], [14.57, -1.19], [14.84, -0.93], [15.23, -0.99],
  [16.02, -0.93], [16.62, -0.79], [17.21, -0.86], [17.61, -0.93], [17.94, -0.99], [18.27, -1.26], [18.79, -1.26], [19.85, -1.33],
  [20.38, -1.5], [22.55, -1.66], [23.25, -1.33], [23.48, -1.62], [23.15, -2], [21.83, -1.93], [21.3, -2.5], [20.64, -2.27],
  [19.45, -2.6], [19.78, -2.4], [18.93, -2.47], [18.13, -2.4], [17.67, -2.94], [17.34, -3.21], [16.81, -3.1], [16.38, -3.23],
  [16.16, -3.58], [15.39, -3.25], [14.97, -3.14], [15.04, -2.81], [15.83, -3.0], [15.36, -2.74], [14.57, -2.71], [13.99, -2.27],
  [14.57, -2.27], [14.11, -1.73], [14.44, -1.93], [16.4, -2.8], [19.7, -1.5],
];
const protSelfEcoliEdge: Pt[] = [
  [14.7, -1.13], [15.36, -0.99], [16.02, -1.13], [16.82, -1.26], [17.61, -1.4], [18.4, -1.53], [19.32, -1.53], [19.98, -1.4],
  [20.51, -1.53], [21.17, -1.73], [14.97, -2.34], [15.36, -2.6], [16.02, -2.67], [16.82, -2.47], [17.61, -2.34], [18.53, -2.2],
  [19.45, -2.2], [20.38, -2.27], [21.04, -2.13],
];

const protSelfHumanFit = { x: [12.8, 16, 20, 22, 23.3], y: [0, -0.02, 0, 0, 0.05] };
const protSelfYeastFit = { x: [10.9, 12, 13, 14, 16, 18, 20, 22, 23.3], y: [1.15, 1.07, 1.03, 1.02, 0.97, 0.97, 0.98, 1.0, 1.0] };
const protSelfEcoliFit = { x: [13.9, 15, 16, 18, 20, 22, 23.3], y: [-1.72, -1.85, -1.9, -1.9, -1.9, -1.93, -1.93] };

const protSelfHumanOutliers = [1.95, -1.15, -1.25, -1.4];
const protSelfYeastOutliers = [5.17, 2.9, 2.45, 2.2, -0.95, -1.1, -1.3, -1.45, -1.6, -2.35];
const protSelfEcoliOutliers = [2.2, 1.07, 0.65, 0.6, -3.7];
const protSelfHumanBox = [-0.47, -0.07, 0, 0.07, 0.38];
const protSelfYeastBox = [0.26, 0.86, 1.02, 1.18, 1.61];
const protSelfEcoliBox = [-2.55, -2.1, -1.9, -1.75, -0.7];
const protSelfHumanRuns = [[0.38, 1.2], [-0.9, -0.47]];
const protSelfYeastRuns = [[1.61, 2.05], [-0.75, 0.26]];
const protSelfEcoliRuns = [[-0.7, 0], [-3.45, -2.55]];

const toPts = (pts: Pt[]) => pts.map(([x, y]) => ({ x, y }));
const toBand = (xs: number[], low: number[], high: number[]) =>
  xs.map((x, i) => ({ x, band: [low[i], high[i]] }));
const toFit = (fit: { x: number[]; y: number[] }) => fit.x.map((x, i) => ({ x, y: fit.y[i] }));

const dot = (r: number, color: string, opacity: number) => (p: any) =>
  <circle cx={p.cx} cy={p.cy} r={r} fill={color} fillOpacity={opacity} />;

const minusTick = (v: number) => String(v).replace('-', '\u2212');

interface PanelProps {
  axisX: number; axisRight: number; axisTop: number; axisBottom: number;
  xDomain: [number, number]; yDomain: [number, number];
  stripXs: number[]; boxHalf: number; stripRight: number;
  yeastBand: any[]; humanBand: any[]; ecoliBand: any[];
  yeastPts: Pt[]; humanPts: Pt[]; ecoliPts: Pt[];
  fits: { x: number[]; y: number[] }[];
  outliers: number[][]; boxes: number[][]; runs: number[][][];
  legend: [number, number];
  accuracy: string[]; accX: number; accY: number[];
  xLabel: [number, number]; yLabel: [number, number];
}

const Legend3 = ({ x, y }: { x: number; y: number }) => (
  <div style={{ position: 'absolute', left: x, top: y, width: 95, height: 60, border: '1.5px solid #333', boxSizing: 'border-box', background: '#fff' }}>
    {speciesNames.map((name, i) => (
      <div key={name} style={{ position: 'absolute', left: 9, top: 7.5 + i * 14.8, height: 14, display: 'flex', alignItems: 'center' }}>
        <span style={{ width: 26, height: 3.5, borderRadius: 2, background: speciesColors[i], display: 'inline-block' }} />
        <span style={{ marginLeft: 9, fontFamily: FONT, fontSize: 12, color: '#333' }}>{name}</span>
      </div>
    ))}
  </div>
);

const LogLabel = ({ cx, cy, text, rotate }: { cx: number; cy: number; text: string; rotate?: boolean }) => (
  <div
    style={{
      position: 'absolute', left: cx, top: cy, whiteSpace: 'nowrap', fontFamily: FONT, fontSize: 22, color: INK,
      lineHeight: 1, transform: `translate(-50%, -50%)${rotate ? ' rotate(-90deg)' : ''}`,
    }}
  >
    Log<sub style={{ fontSize: 15, lineHeight: 0, verticalAlign: -4 }}>2</sub> {text}
  </div>
);

const Panel = (p: PanelProps) => {
  const plotW = p.axisRight - p.axisX;
  const plotH = p.axisBottom - p.axisTop;
  const leftPad = 60;
  const spacing = p.stripXs[1] - p.stripXs[0];
  const stripW = p.stripRight - p.axisRight;
  const stripDomain: [number, number] = [
    1 + (p.axisRight - p.stripXs[0]) / spacing,
    1 + (p.stripRight - p.stripXs[0]) / spacing,
  ];
  const half = p.boxHalf / spacing;
  const colPos = (i: number) => 1 + (p.stripXs[i] - p.stripXs[0]) / spacing;

  return (
    <>
      <div style={{ position: 'absolute', left: p.axisX - leftPad, top: p.axisTop - 5 }}>
        <ComposedChart width={leftPad + plotW + 5} height={plotH + 55} margin={{ top: 5, right: 5, bottom: 0, left: 0 }}>
          <XAxis
            dataKey="x" type="number" domain={p.xDomain} ticks={xTicks} allowDataOverflow height={50}
            tick={{ fontSize: 21, fill: INK, fontFamily: FONT }} tickSize={6} tickMargin={4}
            axisLine={{ stroke: INK, strokeWidth: 1.6 }} tickLine={{ stroke: INK, strokeWidth: 1.2 }}
          />
          <YAxis
            type="number" domain={p.yDomain} ticks={yTicks} allowDataOverflow width={leftPad} tickFormatter={minusTick}
            tick={{ fontSize: 21, fill: INK, fontFamily: FONT }} tickSize={7} tickMargin={7}
            axisLine={{ stroke: INK, strokeWidth: 1.6 }} tickLine={{ stroke: INK, strokeWidth: 1.2 }}
          />
          {expectedRatios.map((r, i) => (
            <ReferenceLine key={r} y={r} stroke={speciesColors[i]} strokeWidth={1.4} strokeDasharray="7 6" />
          ))}
          <Area data={p.yeastBand} dataKey="band" stroke="none" fill={ORANGE} fillOpacity={1} dot={false} activeDot={false} isAnimationActive={false} zIndex={110} />
          <Area data={p.humanBand} dataKey="band" stroke="none" fill="#2BA582" fillOpacity={1} dot={false} activeDot={false} isAnimationActive={false} zIndex={120} />
          <Scatter data={toPts(p.humanPts)} dataKey="y" shape={dot(3.1, GREEN, 0.6)} isAnimationActive={false} zIndex={125} />
          <Scatter data={toPts(p.yeastPts)} dataKey="y" shape={dot(3.1, ORANGE, 0.6)} isAnimationActive={false} zIndex={130} />
          <Area data={p.ecoliBand} dataKey="band" stroke="none" fill={PURPLE} fillOpacity={1} dot={false} activeDot={false} isAnimationActive={false} zIndex={140} />
          <Scatter data={toPts(p.ecoliPts)} dataKey="y" shape={dot(3.1, PURPLE, 0.6)} isAnimationActive={false} zIndex={150} />
          {p.fits.map((fit, i) => (
            <Line key={i} data={toFit(fit)} dataKey="y" stroke="#2b2b2b" strokeWidth={1.5} strokeDasharray="13 6" dot={false} activeDot={false} isAnimationActive={false} zIndex={160} />
          ))}
        </ComposedChart>
      </div>

      <div style={{ position: 'absolute', left: p.axisRight, top: p.axisTop }}>
        <ScatterChart width={stripW} height={plotH} margin={{ top: 0, right: 0, bottom: 0, left: 0 }}>
          <XAxis dataKey="x" type="number" domain={stripDomain} hide allowDataOverflow />
          <YAxis dataKey="y" type="number" domain={p.yDomain} hide allowDataOverflow />
          {expectedRatios.map((r, i) => (
            <ReferenceLine key={r} y={r} stroke={speciesColors[i]} strokeWidth={1.5} strokeDasharray="7 7" />
          ))}
          {speciesColors.map((color, i) => {
            const c = colPos(i);
            const [wLow, q1, med, q3, wHigh] = p.boxes[i];
            return (
              <React.Fragment key={color}>
                <ReferenceLine segment={[{ x: c, y: q3 }, { x: c, y: wHigh }]} stroke={color} strokeWidth={1} strokeDasharray="3 3" />
                <ReferenceLine segment={[{ x: c, y: wLow }, { x: c, y: q1 }]} stroke={color} strokeWidth={1} strokeDasharray="3 3" />
                <ReferenceLine segment={[{ x: c - half * 0.5, y: wHigh }, { x: c + half * 0.5, y: wHigh }]} stroke={color} strokeWidth={1.2} />
                <ReferenceLine segment={[{ x: c - half * 0.5, y: wLow }, { x: c + half * 0.5, y: wLow }]} stroke={color} strokeWidth={1.2} />
                {p.runs[i].map(([lo, hi]) => (
                  <ReferenceLine key={lo} segment={[{ x: c, y: lo }, { x: c, y: hi }]} stroke={color} strokeWidth={4} />
                ))}
                <ReferenceArea x1={c - half} x2={c + half} y1={q1} y2={q3} fill="#fff" fillOpacity={0.6} stroke={color} strokeOpacity={0.75} strokeWidth={1.2} />
                <ReferenceLine segment={[{ x: c - half, y: med }, { x: c + half, y: med }]} stroke={color} strokeWidth={2.6} />
              </React.Fragment>
            );
          })}
          {speciesColors.map((color, i) => (
            <Scatter
              key={color}
              data={p.outliers[i].map((y) => ({ x: colPos(i), y }))}
              shape={dot(2.1, color, 1)}
              isAnimationActive={false}
            />
          ))}
        </ScatterChart>
      </div>

      <Legend3 x={p.legend[0]} y={p.legend[1]} />

      <div style={{ position: 'absolute', left: p.accX, top: 0, fontFamily: FONT, fontSize: 14.2, color: '#333' }}>
        {p.accuracy.map((line, i) => (
          <div
            key={line}
            style={{
              position: 'absolute', top: p.accY[i], transform: 'translateY(-50%)', whiteSpace: 'nowrap',
              fontWeight: i === 0 ? 700 : 400, color: i === 0 ? '#111' : '#333',
            }}
          >
            {line}
          </div>
        ))}
      </div>

      <LogLabel cx={p.xLabel[0]} cy={p.xLabel[1]} text="( B )" />
      <LogLabel cx={p.yLabel[0]} cy={p.yLabel[1]} text="( A:B )" rotate />
    </>
  );
};

const titleStyle: React.CSSProperties = {
  position: 'absolute', fontFamily: FONT, fontWeight: 700, color: '#111', whiteSpace: 'nowrap', lineHeight: 1,
};

export default function App() {
  return (
    <div style={{ position: 'absolute', left: 0, top: 0, width: 1095, height: 951, overflow: 'hidden', background: '#fff' }}>
      <Panel
        axisX={124.6} axisRight={454.3} axisTop={83} axisBottom={449.3}
        xDomain={[10.41, 23.63]} yDomain={[-7.73, 7.72]}
        stripXs={[480, 512, 544]} boxHalf={13} stripRight={560}
        yeastBand={toBand(pepLibYeastBandX, pepLibYeastBandLow, pepLibYeastBandHigh)}
        humanBand={toBand(pepLibHumanBandX, pepLibHumanBandLow, pepLibHumanBandHigh)}
        ecoliBand={toBand(pepLibEcoliBandX, pepLibEcoliBandLow, pepLibEcoliBandHigh)}
        yeastPts={[...pepLibYeastPts, ...pepLibYeastEdge]} humanPts={[...pepLibHumanPts, ...pepLibHumanEdge]} ecoliPts={[...pepLibEcoliPts, ...pepLibEcoliEdge]}
        fits={[pepLibHumanFit, pepLibYeastFit, pepLibEcoliFit]}
        outliers={[pepLibHumanOutliers, pepLibYeastOutliers, pepLibEcoliOutliers]}
        boxes={[pepLibHumanBox, pepLibYeastBox, pepLibEcoliBox]}
        runs={[pepLibHumanRuns, pepLibYeastRuns, pepLibEcoliRuns]}
        legend={[333, 92]}
        accuracy={['absolute global accuracy', 'Human: 0', 'Yeast: 0.0009', 'Ecoli: 0.1950']}
        accX={137.5} accY={[380.7, 398, 416, 434]}
        xLabel={[289, 493]} yLabel={[60.5, 266]}
      />
      <Panel
        axisX={649.7} axisRight={973.4} axisTop={87.7} axisBottom={443.3}
        xDomain={[10.38, 23.62]} yDomain={[-7.68, 7.72]}
        stripXs={[999.2, 1030.6, 1061.9]} boxHalf={12.9} stripRight={1080}
        yeastBand={toBand(pepSelfYeastBandX, pepSelfYeastBandLow, pepSelfYeastBandHigh)}
        humanBand={toBand(pepSelfHumanBandX, pepSelfHumanBandLow, pepSelfHumanBandHigh)}
        ecoliBand={toBand(pepSelfEcoliBandX, pepSelfEcoliBandLow, pepSelfEcoliBandHigh)}
        yeastPts={[...pepSelfYeastPts, ...pepSelfYeastEdge]} humanPts={[...pepSelfHumanPts, ...pepSelfHumanEdge]} ecoliPts={[...pepSelfEcoliPts, ...pepSelfEcoliEdge]}
        fits={[pepSelfHumanFit, pepSelfYeastFit, pepSelfEcoliFit]}
        outliers={[pepSelfHumanOutliers, pepSelfYeastOutliers, pepSelfEcoliOutliers]}
        boxes={[pepSelfHumanBox, pepSelfYeastBox, pepSelfEcoliBox]}
        runs={[pepSelfHumanRuns, pepSelfYeastRuns, pepSelfEcoliRuns]}
        legend={[868, 91]}
        accuracy={['absolute global accuracy', 'Human: 0', 'Yeast: 0.0108', 'Ecoli: 0.1797']}
        accX={661.7} accY={[375.7, 393, 410.7, 428]}
        xLabel={[811.5, 487]} yLabel={[586, 266]}
      />
      <Panel
        axisX={122.8} axisRight={457.3} axisTop={512.7} axisBottom={885}
        xDomain={[10.41, 23.63]} yDomain={[-7.72, 7.74]}
        stripXs={[483.5, 515.4, 548.2]} boxHalf={13.8} stripRight={575}
        yeastBand={toBand(protLibYeastBandX, protLibYeastBandLow, protLibYeastBandHigh)}
        humanBand={toBand(protLibHumanBandX, protLibHumanBandLow, protLibHumanBandHigh)}
        ecoliBand={toBand(protLibEcoliBandX, protLibEcoliBandLow, protLibEcoliBandHigh)}
        yeastPts={[...protLibYeastPts, ...protLibYeastEdge]} humanPts={[...protLibHumanPts, ...protLibHumanEdge]} ecoliPts={[...protLibEcoliPts, ...protLibEcoliEdge]}
        fits={[protLibHumanFit, protLibYeastFit, protLibEcoliFit]}
        outliers={[protLibHumanOutliers, protLibYeastOutliers, protLibEcoliOutliers]}
        boxes={[protLibHumanBox, protLibYeastBox, protLibEcoliBox]}
        runs={[protLibHumanRuns, protLibYeastRuns, protLibEcoliRuns]}
        legend={[333, 519.3]}
        accuracy={['absolute global accuracy', 'Human: 0', 'Yeast: 0.0038', 'Ecoli: 0.1343']}
        accX={137.3} accY={[816, 834, 851.7, 870]}
        xLabel={[289, 930]} yLabel={[57.4, 699]}
      />
      <Panel
        axisX={650} axisRight={993} axisTop={505} axisBottom={889}
        xDomain={[10.43, 23.57]} yDomain={[-7.66, 7.8]}
        stripXs={[1021.3, 1054.7, 1088]} boxHalf={13.9} stripRight={1095}
        yeastBand={toBand(protSelfYeastBandX, protSelfYeastBandLow, protSelfYeastBandHigh)}
        humanBand={toBand(protSelfHumanBandX, protSelfHumanBandLow, protSelfHumanBandHigh)}
        ecoliBand={toBand(protSelfEcoliBandX, protSelfEcoliBandLow, protSelfEcoliBandHigh)}
        yeastPts={[...protSelfYeastPts, ...protSelfYeastEdge]} humanPts={[...protSelfHumanPts, ...protSelfHumanEdge]} ecoliPts={[...protSelfEcoliPts, ...protSelfEcoliEdge]}
        fits={[protSelfHumanFit, protSelfYeastFit, protSelfEcoliFit]}
        outliers={[protSelfHumanOutliers, protSelfYeastOutliers, protSelfEcoliOutliers]}
        boxes={[protSelfHumanBox, protSelfYeastBox, protSelfEcoliBox]}
        runs={[protSelfHumanRuns, protSelfYeastRuns, protSelfEcoliRuns]}
        legend={[868, 519.3]}
        accuracy={['absolute global accuracy', 'Human: 0', 'Yeast: 0.0111', 'Ecoli: 0.1280']}
        accX={661.7} accY={[816, 834, 851, 869]}
        xLabel={[811, 936]} yLabel={[582.5, 699]}
      />

      <div style={{ ...titleStyle, left: 12, top: 7, fontSize: 25.8 }}>LFQbench HYE124 dataset</div>
      <div style={{ ...titleStyle, left: 136, top: 36, fontSize: 25.8 }}>quantification by library XICs</div>
      <div style={{ ...titleStyle, left: 588, top: 36, fontSize: 25.8 }}>quantification by library + top 3 self XICs</div>
      <div style={{ ...titleStyle, left: 27, top: 268, fontSize: 26, transform: 'translate(-50%, -50%) rotate(-90deg)' }}>peptide level</div>
      <div style={{ ...titleStyle, left: 27, top: 705, fontSize: 25.5, transform: 'translate(-50%, -50%) rotate(-90deg)' }}>protein level</div>
    </div>
  );
}
